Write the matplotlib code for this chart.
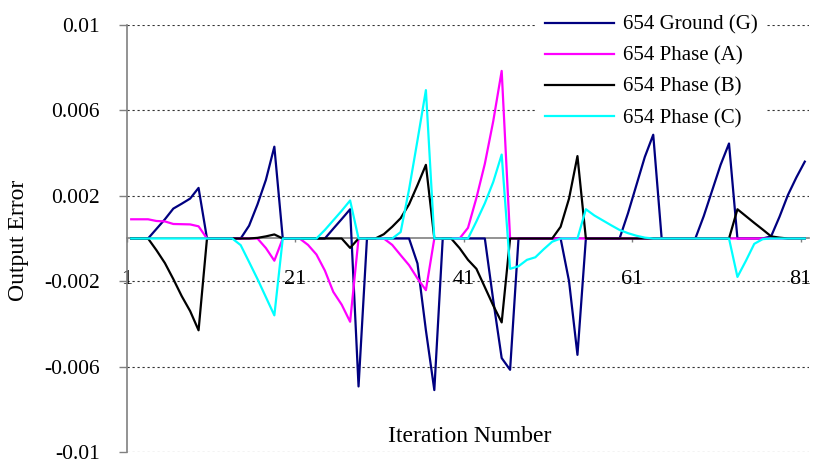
import numpy as np
import matplotlib
matplotlib.use("Agg")
import matplotlib.pyplot as plt

# ------------------------------------------------------------------
# data (output error, in units of 1e-3)
# ------------------------------------------------------------------
iterations = np.arange(1, 82)

ground_g = [0, 0, 0, 0.45, 0.9, 1.4, 1.63, 1.87, 2.37, 0,
            0, 0, 0, 0, 0.6, 1.6, 2.75, 4.3, 0, 0,
            0, 0, 0, 0, 0.46, 0.91, 1.37, -6.93, 0, 0,
            0, 0, 0, 0, -1.17, -4.3, -7.1, 0, 0, 0,
            0, 0, 0, -2.9, -5.6, -6.15, 0, 0, 0, 0,
            0, 0, -2.0, -5.45, 0, 0, 0, 0, 0, 1.18,
            2.5, 3.82, 4.86, 0, 0, 0, 0, 0, 1.05, 2.25,
            3.45, 4.45, 0, 0, 0, 0, 0.1, 1.02, 2.04, 2.86,
            3.6]

phase_a = [0.9, 0.9, 0.9, 0.82, 0.8, 0.68, 0.67, 0.66, 0.57, 0,
           0, 0, 0, 0, 0, 0, -0.45, -1.04, 0, 0,
           0, -0.3, -0.75, -1.5, -2.5, -3.1, -3.9, 0, 0, 0,
           0, -0.3, -0.78, -1.25, -1.87, -2.42, 0, 0, 0, 0,
           0.5, 1.9, 3.5, 5.5, 7.85, 0, 0, 0, 0, 0,
           0, 0, 0, 0, 0, 0, 0, 0, 0, 0,
           0, 0, 0, 0, 0, 0, 0, 0, 0, 0,
           0, 0, 0, 0, 0, 0, 0, 0, 0, 0,
           0]

phase_b = [0, 0, 0, -0.55, -1.15, -1.9, -2.7, -3.4, -4.3, 0,
           0, 0, 0, 0, 0, 0.03, 0.1, 0.19, 0, 0,
           0, 0, 0, 0, 0, 0, -0.44, 0, 0, 0,
           0.2, 0.55, 0.95, 1.6, 2.5, 3.45, 0, 0, 0, -0.45,
           -1.0, -1.42, -2.28, -3.14, -3.93, 0, 0, 0, 0, 0,
           0, 0.55, 1.87, 3.86, 0, 0, 0, 0, 0, 0,
           0, 0, 0, 0, 0, 0, 0, 0, 0, 0,
           0, 0, 1.37, 1.05, 0.73, 0.42, 0.1, 0.04, 0, 0,
           0]

phase_c = [0, 0, 0, 0, 0, 0, 0, 0, 0, 0,
           0, 0, 0, -0.31, -1.1, -1.9, -2.75, -3.6, 0, 0,
           0, 0, 0, 0.4, 0.85, 1.3, 1.78, 0, 0, 0,
           0, 0, 0.3, 2.3, 4.6, 6.95, 0, 0, 0, 0,
           0, 0.8, 1.65, 2.65, 3.93, -1.42, -1.3, -1.0, -0.88, -0.5,
           -0.15, 0, 0, 0, 1.37, 1.08, 0.85, 0.62, 0.4, 0.25,
           0.13, 0.04, 0, 0, 0, 0, 0, 0, 0, 0,
           0, 0, -1.8, -1.05, -0.25, -0.03, 0, 0, 0, 0,
           0]

series = [
    ("654 Ground (G)", ground_g, "#000080"),
    ("654 Phase (A)", phase_a, "#FF00FF"),
    ("654 Phase (B)", phase_b, "#000000"),
    ("654 Phase (C)", phase_c, "#00FFFF"),
]

y_ticks = [0.01, 0.006, 0.002, -0.002, -0.006, -0.01]
y_tick_labels = ["0.01", "0.006", "0.002", "-0.002", "-0.006", "-0.01"]
x_tick_labels = ["1", "21", "41", "61", "81"]

plt.rcParams["font.family"] = ["Liberation Serif", "DejaVu Serif"]

W, H = 814, 465
fig = plt.figure(figsize=(W / 100, H / 100), dpi=100)
ax = fig.add_axes([127 / W, 1 - 452 / H, (809 - 127) / W, (452 - 25) / H])

# --- lines ---------------------------------------------------------
for name, vals, color in series:
    ax.plot(iterations, np.array(vals) * 1e-3, color=color, lw=1.6,
            label=name, zorder=3)

# --- axes ----------------------------------------------------------
ax.set_xlim(0.5, 81.5)
ax.set_ylim(-0.01, 0.01)

ax.spines["top"].set_visible(False)
ax.spines["right"].set_visible(False)
ax.spines["left"].set_color("#808080")
ax.spines["left"].set_linewidth(1.2)
ax.spines["bottom"].set_position(("data", 0))
ax.spines["bottom"].set_color("#808080")
ax.spines["bottom"].set_linewidth(1.2)
ax.spines["bottom"].set_zorder(2)

for y in y_ticks:
    ax.axhline(y, color="#333333", lw=0.8, ls=(0, (2, 2.5)), zorder=1)

ax.set_yticks(y_ticks)
ax.set_yticklabels(y_tick_labels)
ax.tick_params(axis="y", direction="out", length=5.5, width=1,
               color="#808080", pad=14, labelsize=15.5)

ax.set_xticks([0.5, 20.5, 40.5, 60.5, 80.5])
ax.set_xticklabels(x_tick_labels)
ax.tick_params(axis="x", direction="out", length=3, width=1,
               color="#808080", pad=20, labelsize=16)

fig.text(470 / W, 1 - 436 / H, "Iteration Number", fontsize=17,
         ha="center", va="center")
fig.text(19 / W, 1 - 240 / H, "Output Error", fontsize=17,
         rotation=90, ha="center", va="center")

# legend sits above the gridlines but below the data lines
leg = ax.legend(loc="upper left", bbox_to_anchor=(537 / W, 0.985),
                bbox_transform=fig.transFigure, fontsize=15,
                handlelength=3.3, handletextpad=0.45, labelspacing=0.55,
                borderpad=0.4, borderaxespad=0, frameon=True, fancybox=False)
leg.get_frame().set_facecolor("white")
leg.get_frame().set_edgecolor("none")
leg.get_frame().set_alpha(1)
leg.set_zorder(2.5)

fig.savefig("out.png", dpi=100)
